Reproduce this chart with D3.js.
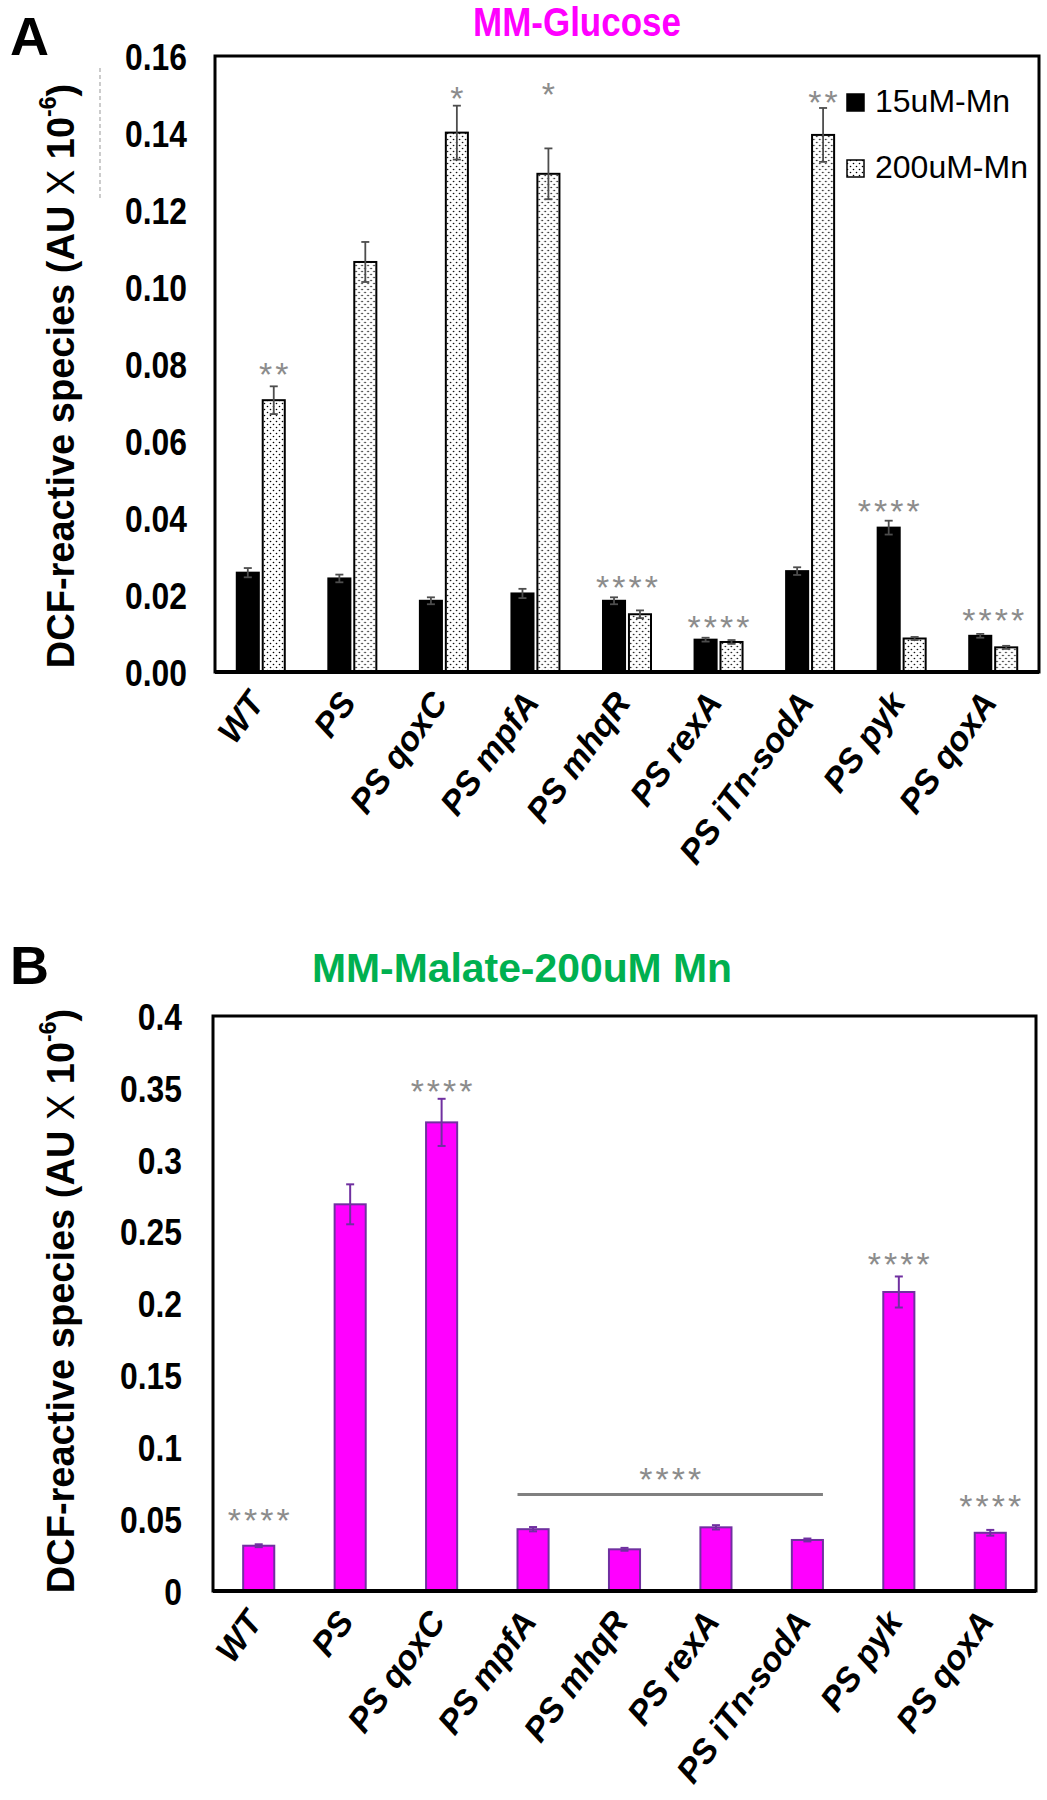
<!DOCTYPE html>
<html><head><meta charset="utf-8">
<script src="https://cdn.jsdelivr.net/npm/d3@7"></script>
<style>
body{margin:0;background:#fff}
svg{display:block}
text{font-family:"Liberation Sans",Arial,Helvetica,sans-serif}
</style>
</head><body>
<svg id="chart" width="1047" height="1800"></svg>
<script>
// ---------- data ----------
const categories = ["WT","PS","PS qoxC","PS mpfA","PS mhqR","PS rexA","PS iTn-sodA","PS pyk","PS qoxA"];
const seriesA = ["15uM-Mn","200uM-Mn"];
const mn15 = [0.0258,0.0243,0.0185,0.0204,0.0185,0.0084,0.0262,0.0375,0.0094];
const mn15Err = [0.0012,0.0010,0.0009,0.0012,0.0009,0.0005,0.0010,0.0018,0.0005];
const mn200 = [0.0706,0.1065,0.1401,0.1294,0.0150,0.0078,0.1395,0.0087,0.0064];
const mn200Err = [0.0036,0.0052,0.0070,0.0066,0.0010,0.0005,0.0070,0.0004,0.0004];
const ticksA = [0,0.02,0.04,0.06,0.08,0.10,0.12,0.14,0.16];
const tickLabelsA = ["0.00","0.02","0.04","0.06","0.08","0.10","0.12","0.14","0.16"];
const starsA = [
  {cat:"WT", at:"200uM-Mn", text:"**", level:0.0775},
  {cat:"PS qoxC", at:"200uM-Mn", text:"*", level:0.1492},
  {cat:"PS mpfA", at:"200uM-Mn", text:"*", level:0.1501},
  {cat:"PS mhqR", at:"group", text:"****", level:0.0221},
  {cat:"PS rexA", at:"group", text:"****", level:0.0117},
  {cat:"PS iTn-sodA", at:"200uM-Mn", text:"**", level:0.1481},
  {cat:"PS pyk", at:"15uM-Mn", text:"****", level:0.0418},
  {cat:"PS qoxA", at:"group", text:"****", level:0.0135}
];

const malate = [0.0315,0.269,0.326,0.0430,0.0290,0.0443,0.0355,0.208,0.0405];
const malateErr = [0.0010,0.0139,0.0164,0.0015,0.0010,0.0015,0.0010,0.0108,0.0020];
const ticksB = [0,0.05,0.1,0.15,0.2,0.25,0.3,0.35,0.4];
const tickLabelsB = ["0","0.05","0.1","0.15","0.2","0.25","0.3","0.35","0.4"];
const starsB = [
  {cat:"WT", text:"****", level:0.0494},
  {cat:"PS qoxC", text:"****", level:0.3478},
  {cat:"PS pyk", text:"****", level:0.2276},
  {cat:"PS qoxA", text:"****", level:0.0591}
];
const bracketB = {from:"PS mpfA", to:"PS iTn-sodA", level:0.0672, text:"****", textLevel:0.0779};

const titleA = "MM-Glucose";
const titleB = "MM-Malate-200uM Mn";

// ---------- drawing ----------
const svg = d3.select("#chart");
const defs = svg.append("defs");
const pat = defs.append("pattern").attr("id","dots").attr("patternUnits","userSpaceOnUse")
  .attr("width",6).attr("height",6);
pat.append("rect").attr("width",6).attr("height",6).attr("fill","#fff");
pat.append("circle").attr("cx",1.5).attr("cy",1.5).attr("r",0.8).attr("fill","#000");
pat.append("circle").attr("cx",4.5).attr("cy",4.5).attr("r",0.8).attr("fill","#000");

const starColor = "#8c8c8c";

function condense(sel, k){
  sel.each(function(){
    const w = this.getComputedTextLength();
    d3.select(this).attr("textLength", w*k).attr("lengthAdjust","spacingAndGlyphs");
  });
}

function yTitle(g, cx, cy){
  const t = g.append("text")
    .attr("transform",`translate(${cx},${cy}) rotate(-90)`)
    .attr("text-anchor","middle").attr("dominant-baseline","middle")
    .attr("font-size",38).attr("font-weight","bold").attr("fill","#000");
  t.append("tspan").text("DCF-reactive species (AU ");
  t.append("tspan").attr("font-weight","normal").text("X");
  t.append("tspan").text(" 10");
  t.append("tspan").attr("font-size",23).attr("dy",-14).text("-6");
  t.append("tspan").attr("dy",14).text(")");
}

function xLabels(g, xs, axisY){
  g.selectAll("text.xl").data(categories).join("text")
    .attr("class","xl")
    .attr("transform",d=>`translate(${xs(d)+5},${axisY+31}) rotate(-54)`)
    .attr("text-anchor","end")
    .attr("font-size",34).attr("font-weight","bold").attr("font-style","italic")
    .attr("fill","#000").text(d=>d);
}

function stars(g, x, y, text){
  g.append("text").attr("x",x+1.5).attr("y",y)
    .attr("text-anchor","middle").attr("dominant-baseline","central")
    .attr("font-size",34).attr("letter-spacing",3).attr("fill",starColor)
    .text(text);
}

function title(g, x, y, txt, color, len){
  g.append("text").attr("x",x).attr("y",y).attr("text-anchor","middle")
    .attr("font-size",41).attr("font-weight","bold").attr("fill",color)
    .attr("textLength",len).attr("lengthAdjust","spacingAndGlyphs").text(txt);
}

// ===== Panel A =====
const A = {left:215, right:1039, top:56, bottom:672};
const gA = svg.append("g");
const x0A = d3.scaleBand().domain(categories).range([A.left,A.right]).padding(0);
const x1A = d3.scaleBand().domain(seriesA)
  .range([x0A.bandwidth()/2-24, x0A.bandwidth()/2+24]).paddingInner(0.15);
const yA = d3.scaleLinear().domain([0,0.16]).range([A.bottom,A.top]);

gA.append("text").attr("x",10).attr("y",55).attr("font-size",54).attr("font-weight","bold").text("A");
title(gA, 577, 36, titleA, "#ff00ff", 208);

// y axis labels
const axA = gA.append("g").attr("transform",`translate(${A.left-28},0)`)
  .call(d3.axisLeft(yA).tickValues(ticksA).tickSize(0).tickFormat((d,i)=>tickLabelsA[i]));
axA.select(".domain").remove();
axA.selectAll("text").attr("font-size",37).attr("font-weight","bold").attr("fill","#000")
  .attr("font-family","'Liberation Sans',Arial,sans-serif").attr("x",0).attr("dy","0.36em");
condense(axA.selectAll("text"), 0.86);
yTitle(gA, 64, 376);
gA.append("line").attr("x1",100).attr("x2",100).attr("y1",68).attr("y2",198)
  .attr("stroke","#aaa").attr("stroke-width",1.2).attr("stroke-dasharray","4,3");

const dataA = categories.map((c,i)=>({c, vals:[
  {s:"15uM-Mn", v:mn15[i], e:mn15Err[i]},
  {s:"200uM-Mn", v:mn200[i], e:mn200Err[i]}]}));
const grp = gA.selectAll("g.grp").data(dataA).join("g").attr("class","grp")
  .attr("transform",d=>`translate(${x0A(d.c)},0)`);
grp.selectAll("rect").data(d=>d.vals).join("rect")
  .attr("x",d=>x1A(d.s)).attr("width",x1A.bandwidth())
  .attr("y",d=>yA(d.v)).attr("height",d=>yA(0)-yA(d.v))
  .attr("fill",d=>d.s==="15uM-Mn"?"#000":"url(#dots)")
  .attr("stroke","#000").attr("stroke-width",2);
const ebA = grp.selectAll("g.eb").data(d=>d.vals).join("g").attr("class","eb")
  .attr("stroke","#4d4d4d").attr("stroke-width",1.8);
ebA.append("line").attr("x1",d=>x1A(d.s)+x1A.bandwidth()/2).attr("x2",d=>x1A(d.s)+x1A.bandwidth()/2)
  .attr("y1",d=>yA(d.v+d.e)).attr("y2",d=>yA(d.v-d.e));
ebA.append("line").attr("x1",d=>x1A(d.s)+x1A.bandwidth()/2-4).attr("x2",d=>x1A(d.s)+x1A.bandwidth()/2+4)
  .attr("y1",d=>yA(d.v+d.e)).attr("y2",d=>yA(d.v+d.e));
ebA.append("line").attr("x1",d=>x1A(d.s)+x1A.bandwidth()/2-4).attr("x2",d=>x1A(d.s)+x1A.bandwidth()/2+4)
  .attr("y1",d=>yA(d.v-d.e)).attr("y2",d=>yA(d.v-d.e));

starsA.forEach(s=>{
  const cx = s.at==="group" ? x0A(s.cat)+x0A.bandwidth()/2 : x0A(s.cat)+x1A(s.at)+x1A.bandwidth()/2;
  stars(gA, cx, yA(s.level), s.text);
});

// frame
gA.append("rect").attr("x",A.left).attr("y",A.top).attr("width",A.right-A.left).attr("height",A.bottom-A.top)
  .attr("fill","none").attr("stroke","#000").attr("stroke-width",3);
gA.append("line").attr("x1",A.left).attr("x2",A.right).attr("y1",A.bottom).attr("y2",A.bottom)
  .attr("stroke","#000").attr("stroke-width",4);

// legend
const leg = gA.append("g");
seriesA.forEach((s,i)=>{
  const yy = 112 + i*66;
  leg.append("rect").attr("x",847).attr("y",yy-18).attr("width",17).attr("height",17)
    .attr("fill",i===0?"#000":"url(#dots)").attr("stroke","#000").attr("stroke-width",1.5);
  leg.append("text").attr("x",875).attr("y",yy).attr("font-size",32).attr("fill","#000").text(s);
});

xLabels(gA, c=>x0A(c)+x0A.bandwidth()/2, A.bottom);

// ===== Panel B =====
const B = {left:213, right:1036, top:1016, bottom:1591};
const gB = svg.append("g");
const xB = d3.scaleBand().domain(categories).range([B.left,B.right]).paddingInner(0.66).paddingOuter(0.33);
const yB = d3.scaleLinear().domain([0,0.4]).range([B.bottom,B.top]);

gB.append("text").attr("x",10).attr("y",984).attr("font-size",54).attr("font-weight","bold").text("B");
title(gB, 522, 982, titleB, "#00b050", 420);

const axB = gB.append("g").attr("transform",`translate(${B.left-31},0)`)
  .call(d3.axisLeft(yB).tickValues(ticksB).tickSize(0).tickFormat((d,i)=>tickLabelsB[i]));
axB.select(".domain").remove();
axB.selectAll("text").attr("font-size",37).attr("font-weight","bold").attr("fill","#000")
  .attr("font-family","'Liberation Sans',Arial,sans-serif").attr("x",0).attr("dy","0.36em");
condense(axB.selectAll("text"), 0.86);
yTitle(gB, 64, 1301);

const dataB = categories.map((c,i)=>({c, v:malate[i], e:malateErr[i]}));
gB.selectAll("rect.bar").data(dataB).join("rect").attr("class","bar")
  .attr("x",d=>xB(d.c)).attr("width",xB.bandwidth())
  .attr("y",d=>yB(d.v)).attr("height",d=>yB(0)-yB(d.v))
  .attr("fill","#ff00ff").attr("stroke","#7030a0").attr("stroke-width",2);
const ebB = gB.selectAll("g.eb").data(dataB).join("g").attr("class","eb")
  .attr("stroke","#7030a0").attr("stroke-width",2);
const cxB = d=>xB(d.c)+xB.bandwidth()/2;
ebB.append("line").attr("x1",cxB).attr("x2",cxB).attr("y1",d=>yB(d.v+d.e)).attr("y2",d=>yB(d.v-d.e));
ebB.append("line").attr("x1",d=>cxB(d)-4).attr("x2",d=>cxB(d)+4).attr("y1",d=>yB(d.v+d.e)).attr("y2",d=>yB(d.v+d.e));
ebB.append("line").attr("x1",d=>cxB(d)-4).attr("x2",d=>cxB(d)+4).attr("y1",d=>yB(d.v-d.e)).attr("y2",d=>yB(d.v-d.e));

starsB.forEach(s=> stars(gB, xB(s.cat)+xB.bandwidth()/2, yB(s.level), s.text));
gB.append("line").attr("x1",xB(bracketB.from)).attr("x2",xB(bracketB.to)+xB.bandwidth())
  .attr("y1",yB(bracketB.level)).attr("y2",yB(bracketB.level))
  .attr("stroke","#808080").attr("stroke-width",3);
stars(gB, (xB(bracketB.from)+xB(bracketB.to)+xB.bandwidth())/2, yB(bracketB.textLevel), bracketB.text);

gB.append("rect").attr("x",B.left).attr("y",B.top).attr("width",B.right-B.left).attr("height",B.bottom-B.top)
  .attr("fill","none").attr("stroke","#000").attr("stroke-width",3);
gB.append("line").attr("x1",B.left).attr("x2",B.right).attr("y1",B.bottom).attr("y2",B.bottom)
  .attr("stroke","#000").attr("stroke-width",4);

xLabels(gB, c=>xB(c)+xB.bandwidth()/2, B.bottom);
</script>
</body></html>
